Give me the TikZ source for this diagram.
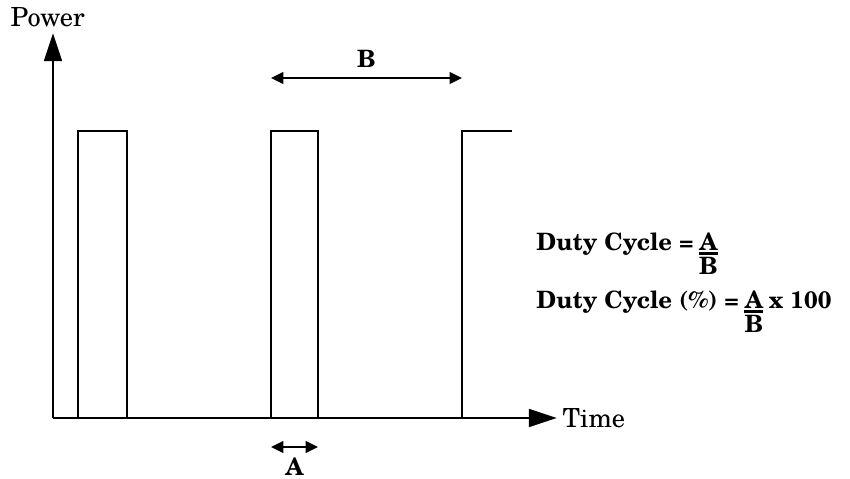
\documentclass[tikz,border=0pt]{standalone}
\usepackage{fontspec}
\setmainfont{TeX Gyre Schola}
\usetikzlibrary{arrows.meta,positioning,calc}
\tikzset{
  axis/.style={line width=1.7pt, -{Triangle[length=16pt,width=10pt]}},
  span/.style={line width=1.3pt, {Triangle[length=7pt,width=6.5pt]}-{Triangle[length=7pt,width=6.5pt]}},
  wave/.style={line width=1.7pt},
  axislabel/.style={font=\fontsize{15}{17}\selectfont, inner sep=1pt},
  formula/.style={font=\bfseries\fontsize{13.6}{16}\selectfont, inner sep=0pt},
  fracbar/.style={line width=1.4pt}
}
\begin{document}
\begin{tikzpicture}[x=0.02cm,y=0.02cm]
  \useasboundingbox (0,0) rectangle (850,478);

  % axes
  \coordinate (origin) at (53,60);
  \coordinate (ytip) at (53,445);
  \coordinate (xtip) at (557,60);
  \draw[axis] (origin) -- (ytip);
  \draw[axis] (origin) -- (xtip);
  \node[axislabel, above=2pt of ytip, xshift=-3pt] (power) {Power};
  \node[axislabel, right=2pt of xtip] (time) {Time};

  % pulse train
  \coordinate (up1) at (78,347);
  \coordinate (dn1) at (127,347);
  \coordinate (up2) at (271,347);
  \coordinate (dn2) at (318,347);
  \coordinate (up3) at (462,347);
  \coordinate (end) at (512,347);
  \draw[wave] (origin) -| (up1) -- (dn1) |- (up2 |- origin) -- (up2) -- (dn2)
    |- (up3 |- origin) -- (up3) -- (end);

  % period B and width A
  \coordinate (bl) at (271,400);
  \coordinate (br) at (462,400);
  \draw[span] (bl) -- (br);
  \node[formula, above=6pt] (blab) at ($(bl)!0.5!(br)$) {B};
  \coordinate (al) at (271,31);
  \coordinate (ar) at (318,31);
  \draw[span] (al) -- (ar);
  \node[formula, below=6pt] (alab) at ($(al)!0.5!(ar)$) {A};

  % duty cycle formulas
  \node[formula, anchor=base west] (dc1) at (536,228) {Duty Cycle =};
  \node[formula, right=3pt of dc1.base east, anchor=base west] (na1) {A};
  \draw[fracbar] ([yshift=-2pt]na1.base west) -- ([yshift=-2pt]na1.base east);
  \node[formula, below=4pt of na1.base] (nb1) {B};

  \node[formula, anchor=base west] (dc2) at (536,170) {Duty Cycle (\%) =};
  \node[formula, right=3pt of dc2.base east, anchor=base west] (na2) {A};
  \node[formula, right=3pt of na2.base east, anchor=base west] (nx2) {x 100};
  \draw[fracbar] ([yshift=-2pt]na2.base west) -- ([yshift=-2pt]na2.base east);
  \node[formula, below=4pt of na2.base] (nb2) {B};
\end{tikzpicture}
\end{document}
